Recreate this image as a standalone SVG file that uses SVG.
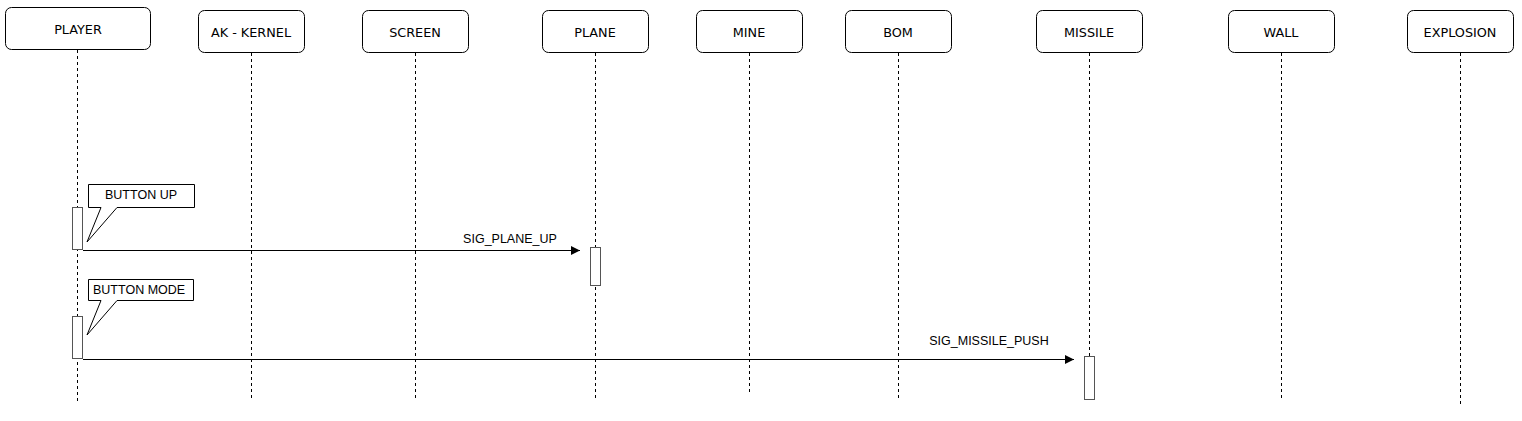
<svg xmlns="http://www.w3.org/2000/svg" width="1522" height="421" viewBox="0 0 1522 421">
<style>
.box{fill:#fff;stroke:#000;stroke-width:1}
.lbl{font-family:"DejaVu Sans",Verdana,sans-serif;font-size:12.8px;fill:#000;text-anchor:middle}
.life{stroke:#000;stroke-width:1;stroke-dasharray:3,3;fill:none}
.act{fill:#fff;stroke:#555;stroke-width:1}
.note{fill:#fff;stroke:#000;stroke-width:1}
.ntxt{font-family:"Liberation Sans",Arial,sans-serif;font-size:12.5px;fill:#000}
.msg{stroke:#000;stroke-width:1.2;fill:none}
.mtxt{font-family:"Liberation Sans",Arial,sans-serif;font-size:12.5px;fill:#000;text-anchor:middle}
</style>
<defs>
<marker id="arr" markerWidth="10" markerHeight="10" refX="9" refY="4.5" orient="auto" markerUnits="userSpaceOnUse">
<path d="M0,0 L9,4.5 L0,9 Z" fill="#000"/>
</marker>
</defs>
<rect width="1522" height="421" fill="#fff"/>
<g id="lifelines">
<line class="life" x1="77.5" y1="50" x2="77.5" y2="402"/>
<line class="life" x1="251.5" y1="53" x2="251.5" y2="399"/>
<line class="life" x1="415.5" y1="53" x2="415.5" y2="400"/>
<line class="life" x1="595.5" y1="53" x2="595.5" y2="401"/>
<line class="life" x1="749.5" y1="53" x2="749.5" y2="394"/>
<line class="life" x1="898.5" y1="53" x2="898.5" y2="400"/>
<line class="life" x1="1089.5" y1="53" x2="1089.5" y2="399"/>
<line class="life" x1="1281.5" y1="53" x2="1281.5" y2="401"/>
<line class="life" x1="1460.5" y1="53" x2="1460.5" y2="405"/>
</g>
<g id="player"><rect class="box" x="5.5" y="7.5" width="145" height="42" rx="6"/><text class="lbl" x="78" y="34">PLAYER</text></g>
<g id="ak-kernel"><rect class="box" x="198.5" y="10.5" width="106" height="42" rx="6"/><text class="lbl" x="251" y="37">AK - KERNEL</text></g>
<g id="screen"><rect class="box" x="362.5" y="10.5" width="106" height="42" rx="6"/><text class="lbl" x="415" y="37">SCREEN</text></g>
<g id="plane"><rect class="box" x="542.5" y="10.5" width="106" height="42" rx="6"/><text class="lbl" x="595" y="37">PLANE</text></g>
<g id="mine"><rect class="box" x="696.5" y="10.5" width="106" height="42" rx="6"/><text class="lbl" x="749" y="37">MINE</text></g>
<g id="bom"><rect class="box" x="845.5" y="10.5" width="106" height="42" rx="6"/><text class="lbl" x="898" y="37">BOM</text></g>
<g id="missile"><rect class="box" x="1036.5" y="10.5" width="106" height="42" rx="6"/><text class="lbl" x="1089" y="37">MISSILE</text></g>
<g id="wall"><rect class="box" x="1228.5" y="10.5" width="106" height="42" rx="6"/><text class="lbl" x="1281" y="37">WALL</text></g>
<g id="explosion"><rect class="box" x="1407.5" y="10.5" width="106" height="42" rx="6"/><text class="lbl" x="1460" y="37">EXPLOSION</text></g>
<g id="activations">
<rect class="act" x="72.5" y="207.5" width="10" height="42"/>
<rect class="act" x="590.5" y="247.5" width="10" height="38"/>
<rect class="act" x="72.5" y="316.5" width="10" height="42"/>
<rect class="act" x="1084.5" y="356.5" width="10" height="43"/>
</g>
<g id="note-button-up">
<path class="note" d="M88.5,184.5 H194.5 V207.5 H117 L87,242 L101,207.5 H88.5 Z"/>
<text class="ntxt" x="105" y="199">BUTTON UP</text>
</g>
<g id="note-button-mode">
<path class="note" d="M88.5,279.5 H193.5 V300.5 H117 L87,335 L101,300.5 H88.5 Z"/>
<text class="ntxt" x="93" y="294">BUTTON MODE</text>
</g>
<g id="connectors">
<line class="msg" x1="83" y1="250.5" x2="580" y2="250.5" marker-end="url(#arr)"/>
<text class="mtxt" x="510" y="243">SIG_PLANE_UP</text>
<line class="msg" x1="83" y1="359.5" x2="1074" y2="359.5" marker-end="url(#arr)"/>
<text class="mtxt" x="989" y="345">SIG_MISSILE_PUSH</text>
</g>
</svg>
